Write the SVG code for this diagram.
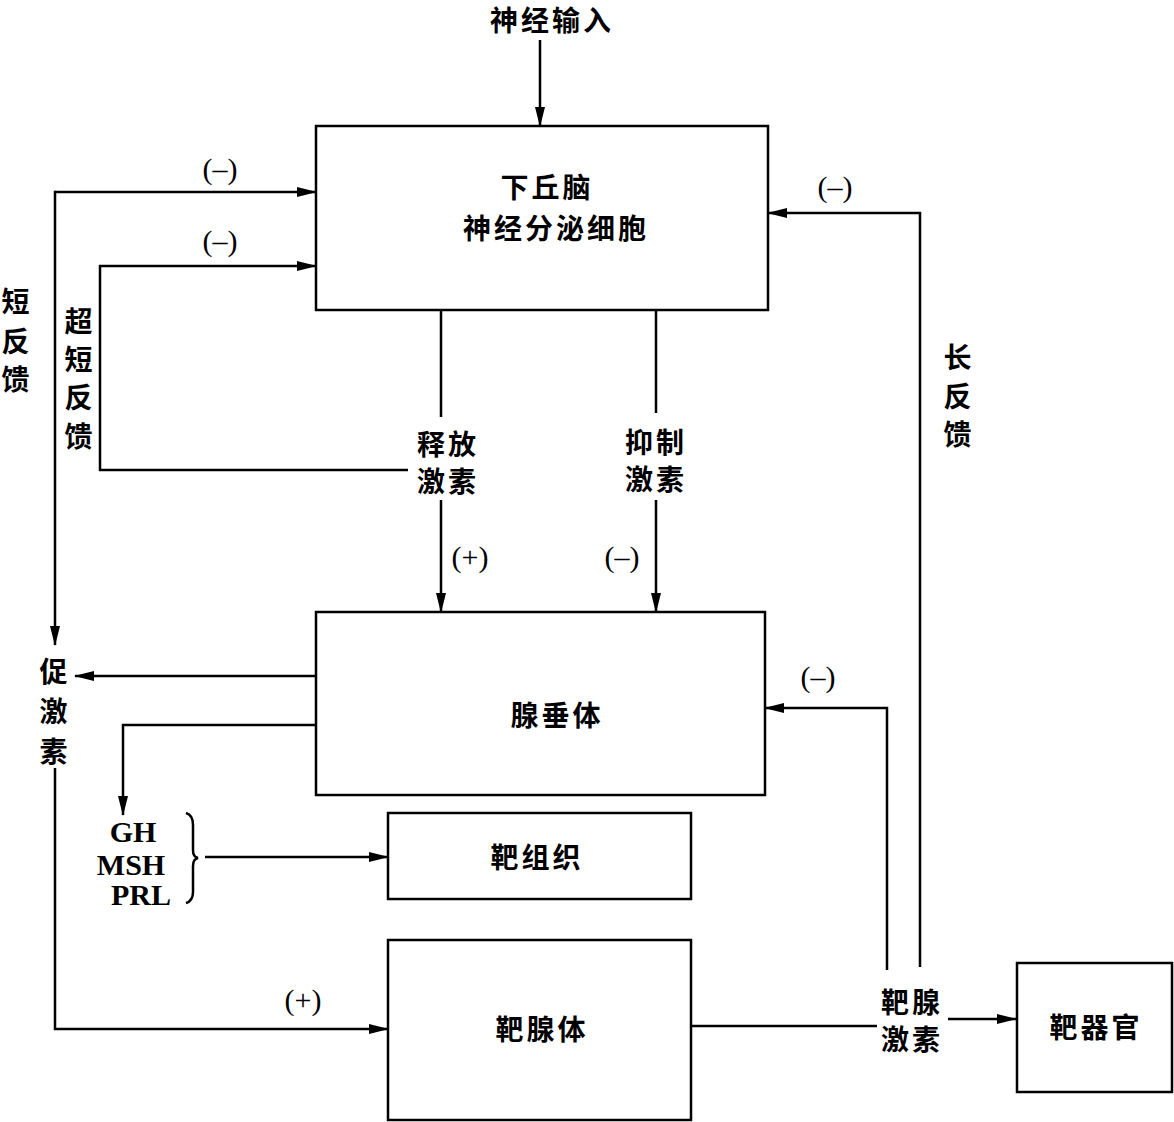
<svg xmlns="http://www.w3.org/2000/svg" width="1174" height="1122" viewBox="0 0 1174 1122">
<style>
.box{fill:none;stroke:#000;stroke-width:2.5}
.ln{fill:none;stroke:#000;stroke-width:2.5}
.cn{font-family:"Noto Sans CJK SC","Noto Sans CJK JP",sans-serif;font-size:28px;font-weight:bold;fill:#000;text-anchor:middle;letter-spacing:3px}
.sg{font-family:"Liberation Serif",serif;font-size:30px;fill:#000;text-anchor:middle}
.en{font-family:"Liberation Serif",serif;font-size:30px;font-weight:bold;fill:#000}
</style>
<defs>
<marker id="arr" markerUnits="userSpaceOnUse" markerWidth="20" markerHeight="12" refX="19" refY="6" orient="auto">
<path d="M0,1 L20,6 L0,11 z" fill="#000"/>
</marker>
</defs>
<rect width="1174" height="1122" fill="#fff"/>

<g id="input">
<text class="cn" x="552" y="31">神经输入</text>
</g>

<g id="hypothalamus">
<rect class="box" x="316" y="126" width="452" height="184"/>
<text class="cn" x="547" y="198">下丘脑</text>
<text class="cn" x="556" y="239">神经分泌细胞</text>
</g>

<g id="pituitary">
<rect class="box" x="316" y="612" width="449" height="183"/>
<text class="cn" x="557" y="726">腺垂体</text>
</g>

<g id="target-tissue">
<rect class="box" x="388" y="813" width="303" height="86"/>
<text class="cn" x="537" y="868">靶组织</text>
</g>

<g id="target-gland">
<rect class="box" x="388" y="940" width="303" height="180"/>
<text class="cn" x="542" y="1040">靶腺体</text>
</g>

<g id="target-organ">
<rect class="box" x="1017" y="963" width="155" height="129"/>
<text class="cn" x="1096" y="1038">靶器官</text>
</g>

<g id="connectors">
<line class="ln" x1="540" y1="40" x2="540" y2="126" marker-end="url(#arr)"/>
<line class="ln" x1="55" y1="192" x2="316" y2="192" marker-end="url(#arr)"/>
<line class="ln" x1="55" y1="190.75" x2="55" y2="645" marker-end="url(#arr)"/>
<polyline class="ln" points="408,470 100,470 100,266 316,266" marker-end="url(#arr)"/>
<line class="ln" x1="441" y1="310" x2="441" y2="417"/>
<line class="ln" x1="441" y1="500" x2="441" y2="612" marker-end="url(#arr)"/>
<line class="ln" x1="656" y1="310" x2="656" y2="413"/>
<line class="ln" x1="656" y1="500" x2="656" y2="612" marker-end="url(#arr)"/>
<line class="ln" x1="316" y1="676" x2="75" y2="676" marker-end="url(#arr)"/>
<polyline class="ln" points="316,725 123,725 123,815" marker-end="url(#arr)"/>
<path class="ln" d="M186,813 Q193,815 193,825 L193,850 Q193,857 198,858 Q193,859 193,866 L193,892 Q193,901 186,903" stroke-width="2"/>
<line class="ln" x1="205" y1="857" x2="388" y2="857" marker-end="url(#arr)"/>
<polyline class="ln" points="55,768 55,1029 388,1029" marker-end="url(#arr)"/>
<line class="ln" x1="691" y1="1026" x2="877" y2="1026"/>
<line class="ln" x1="948" y1="1019" x2="1016" y2="1019" marker-end="url(#arr)"/>
<polyline class="ln" points="887,970 887,708 765,708" marker-end="url(#arr)"/>
<polyline class="ln" points="920,967 920,213 768,213" marker-end="url(#arr)"/>
</g>

<g id="labels">
<text class="sg" x="220" y="179">(–)</text>
<text class="sg" x="220" y="251">(–)</text>
<text class="sg" x="835" y="197">(–)</text>
<text class="sg" x="470" y="567">(+)</text>
<text class="sg" x="622" y="567">(–)</text>
<text class="sg" x="818" y="687">(–)</text>
<text class="sg" x="303" y="1010">(+)</text>

<text class="cn" x="17" y="312">短</text>
<text class="cn" x="17" y="352">反</text>
<text class="cn" x="17" y="390">馈</text>

<text class="cn" x="80" y="332">超</text>
<text class="cn" x="80" y="370">短</text>
<text class="cn" x="80" y="408">反</text>
<text class="cn" x="80" y="447">馈</text>

<text class="cn" x="959" y="368">长</text>
<text class="cn" x="959" y="407">反</text>
<text class="cn" x="959" y="445">馈</text>

<text class="cn" x="448" y="455">释放</text>
<text class="cn" x="448" y="492">激素</text>
<text class="cn" x="656" y="453">抑制</text>
<text class="cn" x="656" y="490">激素</text>

<text class="cn" x="55" y="682">促</text>
<text class="cn" x="55" y="722">激</text>
<text class="cn" x="55" y="762">素</text>

<text class="cn" x="912" y="1013">靶腺</text>
<text class="cn" x="912" y="1050">激素</text>

<text class="en" x="133" y="842" text-anchor="middle">GH</text>
<text class="en" x="131" y="875" text-anchor="middle">MSH</text>
<text class="en" x="141" y="905" text-anchor="middle">PRL</text>
</g>
</svg>
